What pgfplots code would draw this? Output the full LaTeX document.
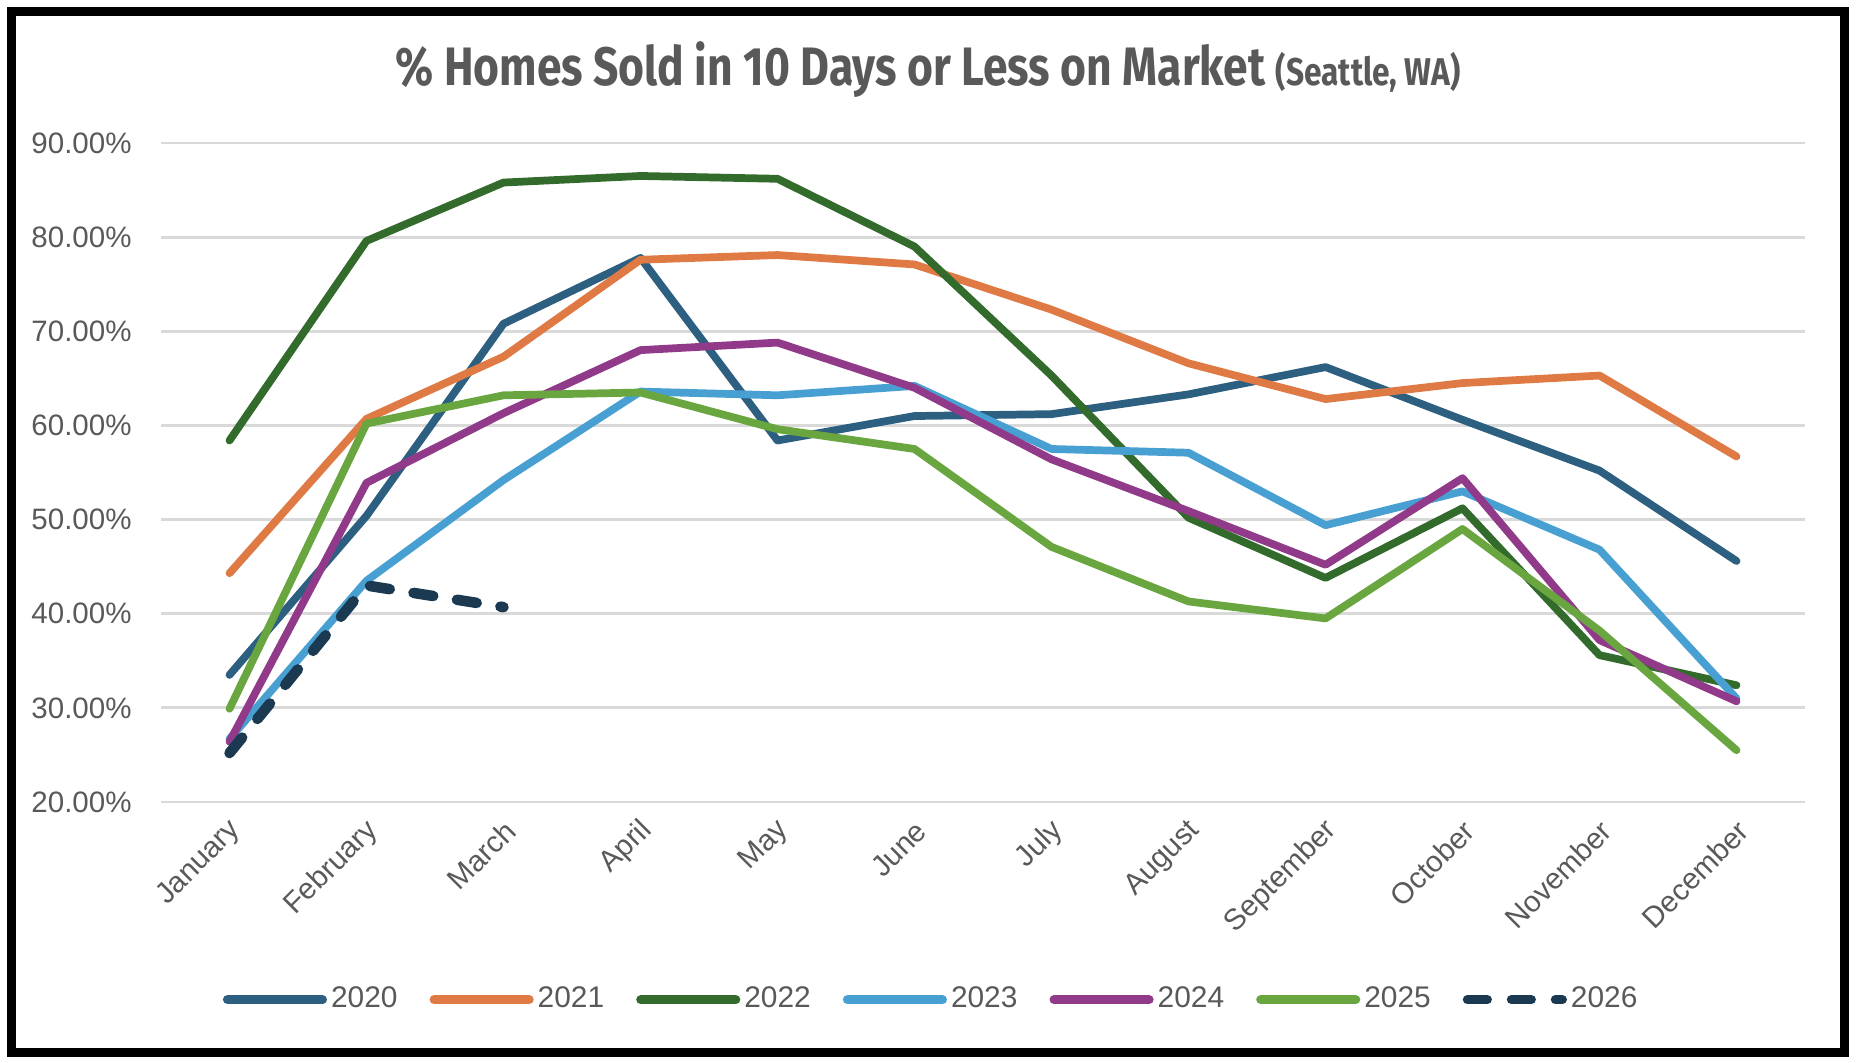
\documentclass[border=0pt]{standalone}
\usepackage{fontspec}
\setmainfont{Liberation Sans}
\newfontfamily\titlefont{Fira Sans}[FakeStretch=0.82]
\usepackage{pgfplots}
\pgfplotsset{compat=1.18}

\definecolor{c2020}{HTML}{2C5F80}
\definecolor{c2021}{HTML}{E07A45}
\definecolor{c2022}{HTML}{326B2B}
\definecolor{c2023}{HTML}{48A0D2}
\definecolor{c2024}{HTML}{923A8A}
\definecolor{c2025}{HTML}{69A640}
\definecolor{c2026}{HTML}{1B3A52}
\definecolor{txt}{HTML}{595959}
\definecolor{gridc}{HTML}{D9D9D9}

\newcommand{\yr}[1]{\hspace*{-0.03cm}#1}

\begin{document}
\begin{tikzpicture}
\useasboundingbox (0,0) rectangle (18.56,10.62);
\begin{axis}[
    at={(1.61cm,2.60cm)}, anchor=south west,
    scale only axis, width=16.44cm, height=6.59cm,
    xmin=-0.5, xmax=11.5, ymin=20, ymax=90,
    xtick={0,...,11},
    xticklabels={January,February,March,April,May,June,July,August,September,October,November,December},
    ytick={20,30,...,90},
    yticklabel={\pgfmathprintnumber[fixed,fixed zerofill,precision=2,assume math mode=true]{\tick}\%},
    ymajorgrids, grid style={gridc, line width=0.8pt},
    axis line style={draw=none},
    major tick length=0pt,
    tick label style={font=\fontsize{8.4}{9}\selectfont, text=txt},
    x tick label style={rotate=45, anchor=east, yshift=-0.22cm},
    y tick label style={xshift=-0.17cm},
    every axis plot/.append style={line width=2.2pt, line join=round, line cap=round, no markers},
    legend columns=7,
    legend style={at={(0.470,-0.300)}, anchor=center, draw=none,
        font=\fontsize{8.5}{10}\selectfont, text=txt,
        /tikz/every even column/.append style={column sep=0.25cm}},
    legend image code/.code={\draw[line width=2.6pt, #1, line cap=round] (0cm,0cm) -- (0.95cm,0cm);},
]
% 2020
\addplot[c2020] coordinates {(0,33.5) (1,50.4) (2,70.8) (3,77.8) (4,58.4) (5,61.0) (6,61.2) (7,63.3) (8,66.2) (9,60.6) (10,55.2) (11,45.6)};
\addlegendentry{\yr{2020}}
% 2021
\addplot[c2021] coordinates {(0,44.3) (1,60.7) (2,67.3) (3,77.6) (4,78.1) (5,77.1) (6,72.3) (7,66.6) (8,62.8) (9,64.5) (10,65.3) (11,56.7)};
\addlegendentry{\yr{2021}}
% 2022
\addplot[c2022] coordinates {(0,58.4) (1,79.6) (2,85.8) (3,86.5) (4,86.2) (5,79.0) (6,65.3) (7,50.2) (8,43.8) (9,51.2) (10,35.6) (11,32.4)};
\addlegendentry{\yr{2022}}
% 2023
\addplot[c2023] coordinates {(0,26.7) (1,43.5) (2,54.2) (3,63.6) (4,63.2) (5,64.2) (6,57.5) (7,57.1) (8,49.4) (9,53.0) (10,46.8) (11,31.0)};
\addlegendentry{\yr{2023}}
% 2024
\addplot[c2024] coordinates {(0,26.4) (1,53.9) (2,61.3) (3,68.0) (4,68.8) (5,64.0) (6,56.4) (7,50.9) (8,45.2) (9,54.4) (10,37.2) (11,30.7)};
\addlegendentry{\yr{2024}}
% 2025
\addplot[c2025] coordinates {(0,29.9) (1,60.2) (2,63.2) (3,63.5) (4,59.6) (5,57.5) (6,47.1) (7,41.3) (8,39.5) (9,49.0) (10,38.2) (11,25.5)};
\addlegendentry{\yr{2025}}
% 2026
\addplot[c2026, line width=3pt, dash pattern=on 0.2cm off 0.24cm] coordinates {(0,25.2) (1,43.0) (2,40.7)};
\addlegendentry{\yr{2026}}
\end{axis}
\node[anchor=base, text=txt] at (9.28,9.76) {\titlefont\bfseries\fontsize{15.4}{17}\selectfont \% Homes Sold in 10 Days or Less on Market {\fontsize{11}{12}\selectfont (Seattle, WA)}};
\draw[line width=0.09cm] (0.11,0.10) rectangle (18.44,10.50);
\end{tikzpicture}
\end{document}
